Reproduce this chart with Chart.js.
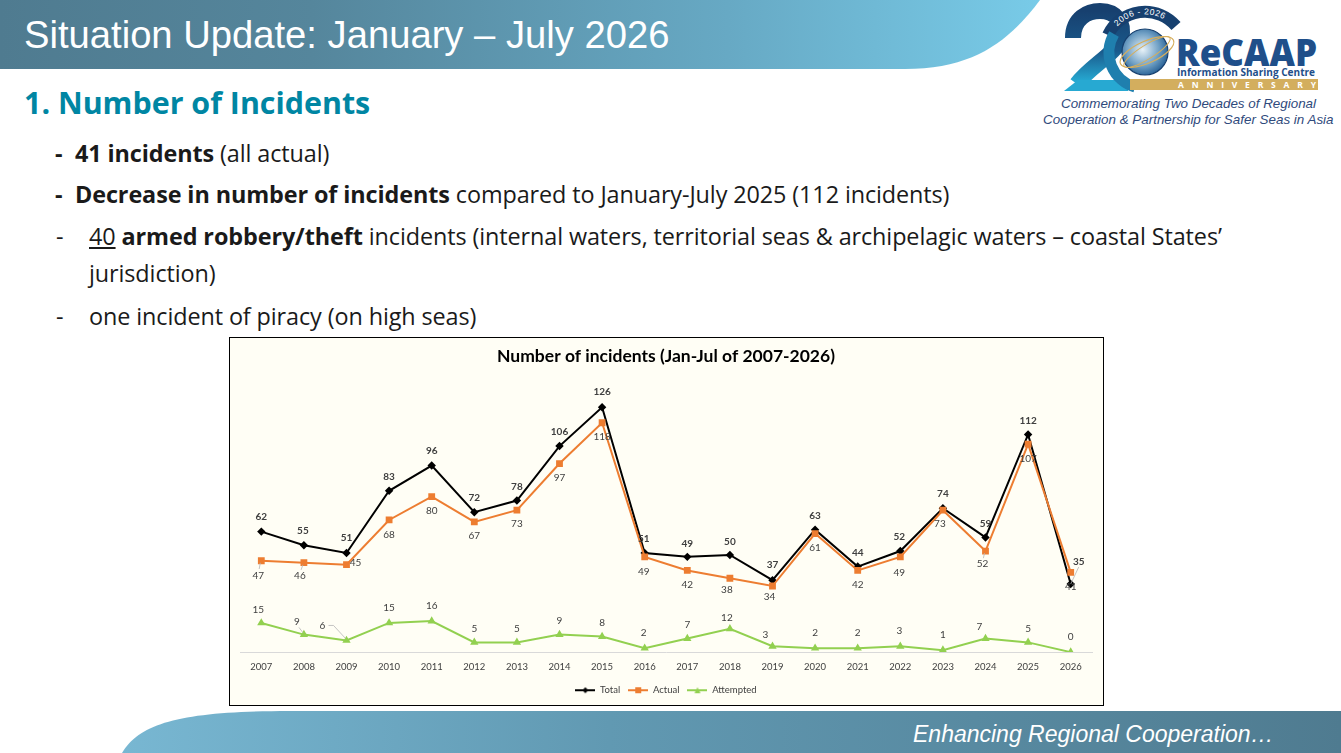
<!DOCTYPE html>
<html>
<head>
<meta charset="utf-8">
<title>Situation Update</title>
<script src="https://cdn.jsdelivr.net/npm/chart.js@4"></script>
<style>
html, body { margin: 0; padding: 0; background: #fff; overflow: hidden; }
#slide { position: relative; width: 1341px; height: 753px; overflow: hidden; }
#deco { position: absolute; left: 0; top: 0; }
.t { position: absolute; white-space: nowrap; line-height: 1; }
.head { font-family: "Liberation Sans", sans-serif; color: #fff; }
.body { font-family: "Open Sans", sans-serif; font-size: 23.4px; color: #1a1a1a; letter-spacing: -0.1px; }
.cap { font-family: "Liberation Sans", sans-serif; font-style: italic; font-size: 13.4px; color: #2f4a7c; }
#chartBox { position: absolute; left: 229px; top: 337px; width: 875px; height: 369px; }
#chartBox canvas { position: absolute; left: 0; top: 0; }
#frame { position: absolute; left: 229px; top: 337px; width: 873px; height: 367px; border: 1px solid #000; pointer-events: none; }
</style>
</head>
<body>
<div id="slide">
<svg id="deco" width="1341" height="753" xmlns="http://www.w3.org/2000/svg">
  <defs>
    <linearGradient id="topGrad" x1="0" x2="1" y1="0" y2="0">
      <stop offset="0" stop-color="#4f7b90"/>
      <stop offset="0.3" stop-color="#55869c"/>
      <stop offset="0.7" stop-color="#67a9c4"/>
      <stop offset="1" stop-color="#78cbe8"/>
    </linearGradient>
    <linearGradient id="botGrad" x1="0" x2="1" y1="0" y2="0">
      <stop offset="0" stop-color="#78b7d2"/>
      <stop offset="0.4" stop-color="#6199b2"/>
      <stop offset="1" stop-color="#4f7b90"/>
    </linearGradient>
    <linearGradient id="twoGrad" x1="0" x2="0" y1="0" y2="1">
      <stop offset="0" stop-color="#17406f"/>
      <stop offset="0.55" stop-color="#1a5a8c"/>
      <stop offset="1" stop-color="#27b0d8"/>
    </linearGradient>
    <radialGradient id="globe" cx="0.45" cy="0.45" r="0.6">
      <stop offset="0" stop-color="#e8f2f8"/>
      <stop offset="0.6" stop-color="#6f9fc4"/>
      <stop offset="1" stop-color="#1f5a90"/>
    </radialGradient>
    <path id="arcText" d="M1116,28 A37.5,37.5 0 0 1 1174,28"/>
  </defs>
  <path d="M0,0 H1040 C1010,40 975,69 905,69 H0 Z" fill="url(#topGrad)"/>
  <path d="M122,753 C140,722 185,711 290,711 H1341 V753 Z" fill="url(#botGrad)"/>

  <!-- logo -->
  <path d="M1073,38 C1073,18 1088,11 1100,11 C1117,11 1125,24 1121,38 C1116,54 1090,66 1077,84" fill="none" stroke="url(#twoGrad)" stroke-width="16"/>
  <path d="M1064,91 L1128,91 L1128,80 L1078,80 Z" fill="#27a9d2"/>
  <path d="M1108,35 A41,41 0 0 1 1176,26" fill="none" stroke="#17406f" stroke-width="12"/>
  <path d="M1114,34 A36,36 0 0 0 1135,87" fill="none" stroke="#1f7fae" stroke-width="11"/>
  <circle cx="1145" cy="52" r="23" fill="url(#globe)" stroke="#17406f" stroke-width="1.2"/>
  <ellipse cx="1147" cy="52" rx="29" ry="11" fill="none" stroke="#d6ae5c" stroke-width="1.2" transform="rotate(-24 1147 52)"/>
  <ellipse cx="1147" cy="52" rx="27" ry="7" fill="none" stroke="#d6ae5c" stroke-width="1" transform="rotate(-32 1147 52)"/>
  <rect x="1130" y="79" width="188" height="11" fill="#d3ae5e"/>
  <text font-family="Liberation Sans, sans-serif" font-size="8.5" fill="#fff" letter-spacing="0.5"><textPath href="#arcText" startOffset="2">2006 - 2026</textPath></text>
  <text x="1176" y="66" font-family="Open Sans, sans-serif" font-weight="800" font-size="37" fill="#1f4f8a" textLength="141" lengthAdjust="spacingAndGlyphs">ReCAAP</text>
  <text x="1177" y="76" font-family="Open Sans, sans-serif" font-weight="700" font-size="10" fill="#1f4f8a" textLength="138" lengthAdjust="spacingAndGlyphs">Information Sharing Centre</text>
  <text x="1178" y="88" font-family="Open Sans, sans-serif" font-weight="700" font-size="8.5" fill="#fff" textLength="138">ANNIVERSARY</text>
</svg>

<div class="t head" style="left:24px; top:16px; font-size:38.2px;">Situation Update: January – July 2026</div>
<div class="t head" style="left:913px; top:723px; font-size:23px; font-style:italic;">Enhancing Regional Cooperation…</div>
<div class="t cap" style="left:1061px; top:97px;">Commemorating Two Decades of Regional</div>
<div class="t cap" style="left:1043px; top:113px;">Cooperation &amp; Partnership for Safer Seas in Asia</div>

<div class="t" style="left:24px; top:88px; font-family:'Open Sans',sans-serif; font-weight:700; font-size:30.4px; color:#0086a3;">1. Number of Incidents</div>

<div class="t body" style="left:55px; top:142px;"><b>-</b></div>
<div class="t body" style="left:75px; top:142px;"><b>41 incidents</b> (all actual)</div>
<div class="t body" style="left:55px; top:183px;"><b>-</b></div>
<div class="t body" style="left:75px; top:183px;"><b>Decrease in number of incidents</b> compared to January-July 2025 (112 incidents)</div>
<div class="t body" style="left:56px; top:225px;">-</div>
<div class="t body" style="left:89px; top:225px;"><u>40</u> <b>armed robbery/theft</b> incidents (internal waters, territorial seas &amp; archipelagic waters – coastal States’</div>
<div class="t body" style="left:89px; top:262px;">jurisdiction)</div>
<div class="t body" style="left:56px; top:305px;">-</div>
<div class="t body" style="left:89px; top:305px;">one incident of piracy (on high seas)</div>

<div id="chartBox"><canvas id="incidentsChart" width="875" height="369"></canvas></div>
<div id="frame"></div>
</div>

<script>
var years = ['2007','2008','2009','2010','2011','2012','2013','2014','2015','2016','2017','2018','2019','2020','2021','2022','2023','2024','2025','2026'];
var totalValues = [62,55,51,83,96,72,78,106,126,51,49,50,37,63,44,52,74,59,112,35];
var actualValues = [47,46,45,68,80,67,73,97,118,49,42,38,34,61,42,49,73,52,107,41];
var attemptedValues = [15,9,6,15,16,5,5,9,8,2,7,12,3,2,2,3,1,7,5,0];

// label offsets from each point
var totalOffsets = [[0,-15],[-1,-14],[0,-15],[0,-14],[0,-15],[0,-14],[0,-14],[0,-14],[0,-15],[-1,-14],[0,-13],[0,-13],[0,-15],[0,-14],[0,-14],[-1,-14],[0,-14],[0,-14],[0,-14],[8,-22]];
var actualOffsets = [[-3,15],[-4,13],[9,-2],[0,15],[0,14],[0,14],[0,14],[0,14],[0,14],[-1,15],[0,14],[-3,12],[-3,11],[0,14],[0,14],[-1,16],[-3,14],[-3,13],[0,15],[0,14]];
var attemptedOffsets = [[-3,-13],[-7,-13],[-24,-15],[0,-15],[0,-15],[0,-14],[0,-14],[0,-14],[0,-14],[-1,-15],[0,-14],[-3,-11],[-7,-11],[0,-15],[0,-15],[-1,-15],[0,-15],[-6,-12],[0,-14],[0,-15]];

// thin grey leader lines: dataset, point
var leaders = [[1,0],[1,1],[2,1],[2,2],[0,19],[1,17]];

var fontName = 'Lato, sans-serif';

function legendIcon(color, style) {
    var c = document.createElement('canvas');
    c.width = 20; c.height = 8;
    var g = c.getContext('2d');
    g.strokeStyle = color; g.fillStyle = color; g.lineWidth = 2;
    g.beginPath(); g.moveTo(0, 4); g.lineTo(20, 4); g.stroke();
    g.beginPath();
    if (style == 'rect') { g.rect(7, 1, 6, 6); }
    if (style == 'rectRot') { g.moveTo(10, 1); g.lineTo(13, 4); g.lineTo(10, 7); g.lineTo(7, 4); g.closePath(); }
    if (style == 'triangle') { g.moveTo(10, 1); g.lineTo(13, 7); g.lineTo(7, 7); g.closePath(); }
    g.fill();
    return c;
}

var pointLabels = {
    id: 'pointLabels',
    afterDatasetsDraw: function(chart) {
        var ctx = chart.ctx;
        var allOffsets = [totalOffsets, actualOffsets, attemptedOffsets];
        ctx.save();
        ctx.strokeStyle = '#b5b5b5';
        ctx.lineWidth = 0.8;
        leaders.forEach(function(l) {
            var pt = chart.getDatasetMeta(l[0]).data[l[1]];
            var off = allOffsets[l[0]][l[1]];
            ctx.beginPath();
            if (l[0] == 2 && l[1] == 2) {
                ctx.moveTo(pt.x + off[0] + 6, pt.y + off[1]);
                ctx.lineTo(pt.x - 13, pt.y + off[1]);
                ctx.lineTo(pt.x - 1, pt.y - 2);
            } else if (l[0] == 0) {
                ctx.moveTo(pt.x, pt.y);
                ctx.lineTo(pt.x + off[0], pt.y + off[1] + 5);
            } else {
                ctx.moveTo(pt.x - 1, pt.y + (off[1] > 0 ? 2 : -2));
                ctx.lineTo(pt.x + off[0] * 0.7, pt.y + off[1] * 0.55);
            }
            ctx.stroke();
        });
        ctx.textAlign = 'center';
        ctx.textBaseline = 'middle';
        chart.data.datasets.forEach(function(ds, i) {
            ctx.font = (i == 0 ? 'bold ' : '') + '10px ' + fontName;
            ctx.fillStyle = '#404040';
            chart.getDatasetMeta(i).data.forEach(function(pt, j) {
                ctx.fillText(ds.data[j], pt.x + allOffsets[i][j][0], pt.y + allOffsets[i][j][1]);
            });
        });
        ctx.restore();
    }
};

var plotBg = {
    id: 'plotBg',
    beforeDraw: function(chart) {
        chart.ctx.save();
        chart.ctx.fillStyle = '#fffef5';
        chart.ctx.fillRect(0, 0, chart.width, chart.height);
        chart.ctx.restore();
    }
};

var ctx = document.getElementById('incidentsChart').getContext('2d');
var chart = new Chart(ctx, {
    type: 'line',
    data: {
        labels: years,
        datasets: [
            { label: 'Total', data: totalValues, borderColor: '#000000', backgroundColor: '#000000', borderWidth: 2, pointStyle: 'rectRot', pointRadius: 2.8, order: 3 },
            { label: 'Actual', data: actualValues, borderColor: '#ED7D31', backgroundColor: '#ED7D31', borderWidth: 2, pointStyle: 'rect', pointRadius: 3.4, order: 2 },
            { label: 'Attempted', data: attemptedValues, borderColor: '#92D050', backgroundColor: '#92D050', borderWidth: 2, pointStyle: 'triangle', pointRadius: 2.8, order: 1 }
        ]
    },
    plugins: [plotBg, pointLabels],
    options: {
        responsive: false,
        animation: false,
        devicePixelRatio: 1,
        layout: { padding: { left: 11, right: 12, top: 8, bottom: 1 } },
        scales: {
            x: {
                offset: true,
                grid: { display: false, drawTicks: false },
                border: { color: '#d9d9d9', width: 1 },
                afterFit: function(scale) { scale.height -= 4; },
                ticks: { color: '#404040', font: { family: fontName, size: 9.5 }, padding: 9, maxRotation: 0, autoSkip: false }
            },
            y: { display: false, min: 0, max: 140 }
        },
        plugins: {
            title: {
                display: true,
                text: 'Number of incidents (Jan-Jul of 2007-2026)',
                color: '#000000',
                font: { family: fontName, size: 17.5, weight: 'bold' },
                padding: { top: 1, bottom: 13 }
            },
            legend: {
                position: 'bottom',
                labels: {
                    color: '#404040',
                    font: { family: fontName, size: 9.5 },
                    usePointStyle: true,
                    pointStyleWidth: 20,
                    padding: 8,
                    generateLabels: function(c) {
                        var styles = ['rectRot', 'rect', 'triangle'];
                        return c.data.datasets.map(function(ds, i) {
                            return { text: ds.label, fontColor: '#404040', strokeStyle: ds.borderColor, fillStyle: ds.borderColor, lineWidth: 0, pointStyle: legendIcon(ds.borderColor, styles[i]), datasetIndex: i };
                        });
                    }
                }
            },
            tooltip: { enabled: false }
        }
    }
});
</script>
</body>
</html>
